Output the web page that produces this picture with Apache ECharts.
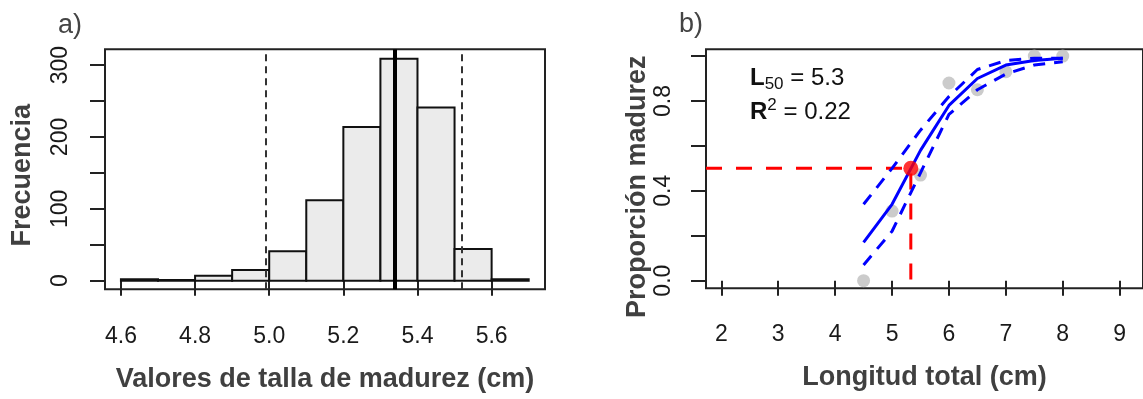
<!DOCTYPE html>
<html><head><meta charset="utf-8">
<script src="https://cdn.jsdelivr.net/npm/echarts@6/dist/echarts.min.js"></script>
<style>html,body{margin:0;padding:0;background:#fff}#c{width:1143px;height:399px}</style>
</head><body><div id="c"></div>
<script>
// ---- Panel a) histogram data ----
const binStarts = [4.6, 4.7, 4.8, 4.9, 5.0, 5.1, 5.2, 5.3, 5.4, 5.5, 5.6];
const binWidth = 0.1;
const counts = [2, 1, 7, 15, 41, 112, 214, 309, 241, 44, 2];
const ciLow = 4.987, l50Mean = 5.336, ciHigh = 5.523;
const histXTicks = [4.6, 4.8, 5.0, 5.2, 5.4, 5.6];
const histYTicks = [0, 50, 100, 150, 200, 250, 300];
const histYLabels = [0, 100, 200, 300];

// ---- Panel b) maturity ogive data ----
const lengths = [4.5, 5.0, 5.5, 6.0, 6.5, 7.0, 7.5, 8.0];
const propObs = [0.0, 0.31, 0.47, 0.88, 0.85, 0.93, 1.0, 1.0];
const propFit = [0.17, 0.34, 0.58, 0.78, 0.90, 0.96, 0.98, 0.99];
const propUpper = [0.34, 0.50, 0.67, 0.82, 0.94, 0.98, 0.99, 0.99];
const propLower = [0.07, 0.22, 0.48, 0.74, 0.85, 0.92, 0.96, 0.975];
const L50 = 5.33, pHalf = 0.5;
const lenXTicks = [2, 3, 4, 5, 6, 7, 8, 9];
const propYTicks = [0, 0.2, 0.4, 0.6, 0.8, 1.0];
const propYLabels = [0, 0.4, 0.8];

const FONT = "'Liberation Sans', Arial, Helvetica, sans-serif";
const AX = { histX: [4.557, 5.744], histY: [-12, 322], lenX: [1.731, 9.41], propY: [-0.034, 1.03] };

const tickStyle = (vals) => ({ show: true, inside: false, length: 15, customValues: vals, lineStyle: { color: '#222', width: 2 } });
const labelStyle = (vals, fmt, margin, rot) => ({ show: true, customValues: vals, formatter: fmt, margin: margin, rotate: rot || 0,
  fontSize: 23, color: '#1a1a1a', fontFamily: FONT });
const nameStyle = (pad) => ({ fontSize: 27, fontWeight: 'bold', color: '#404040', fontFamily: FONT, padding: pad || 0 });

const chart = echarts.init(document.getElementById('c'), null, { renderer: 'canvas' });
chart.setOption({
  animation: false,
  backgroundColor: '#fff',
  grid: [
    { left: 105, top: 49.3, width: 440, height: 240, show: true, borderColor: '#222', borderWidth: 2, backgroundColor: 'transparent' },
    { left: 706, top: 49.3, width: 448, height: 239, show: true, borderColor: '#222', borderWidth: 2, backgroundColor: 'transparent' }
  ],
  xAxis: [
    { type: 'value', gridIndex: 0, min: AX.histX[0], max: AX.histX[1], axisLine: { show: false }, splitLine: { show: false },
      axisTick: tickStyle(histXTicks), axisLabel: labelStyle(histXTicks, v => v.toFixed(1), 36),
      name: 'Valores de talla de madurez (cm)', nameLocation: 'middle', nameGap: 77, nameTextStyle: nameStyle() },
    { type: 'value', gridIndex: 1, min: AX.lenX[0], max: AX.lenX[1], axisLine: { show: false }, splitLine: { show: false },
      axisTick: tickStyle(lenXTicks), axisLabel: labelStyle(lenXTicks, v => String(v), 35),
      name: 'Longitud total (cm)', nameLocation: 'middle', nameGap: 76, nameTextStyle: nameStyle() }
  ],
  yAxis: [
    { type: 'value', gridIndex: 0, min: AX.histY[0], max: AX.histY[1], axisLine: { show: false }, splitLine: { show: false },
      axisTick: tickStyle(histYTicks), axisLabel: labelStyle(histYLabels, v => String(v), 33, 90),
      name: 'Frecuencia', nameLocation: 'middle', nameGap: 69, nameRotate: 90, nameTextStyle: nameStyle([0, 12, 0, 0]) },
    { type: 'value', gridIndex: 1, min: AX.propY[0], max: AX.propY[1], axisLine: { show: false }, splitLine: { show: false },
      axisTick: tickStyle(propYTicks), axisLabel: labelStyle(propYLabels, v => v.toFixed(1), 31, 90),
      name: 'Proporción madurez', nameLocation: 'middle', nameGap: 42, nameRotate: 90, nameTextStyle: nameStyle([0, 36, 0, 0]) }
  ],
  series: [
    { type: 'custom', xAxisIndex: 0, yAxisIndex: 0, silent: true,
      data: binStarts.map((s, i) => [s, s + binWidth, counts[i]]),
      encode: { x: [0, 1], y: 2 },
      renderItem: function (params, api) {
        const p0 = api.coord([api.value(0), api.value(2)]);
        const p1 = api.coord([api.value(1), 0]);
        return { type: 'rect', shape: { x: p0[0], y: p0[1], width: p1[0] - p0[0], height: p1[1] - p0[1] },
          style: { fill: '#ebebeb', stroke: '#111', lineWidth: 2 } };
      },
      markLine: { silent: true, symbol: ['none', 'none'], label: { show: false }, animation: false,
        data: [
          { xAxis: ciLow, lineStyle: { color: '#333', width: 2, type: [7, 5] } },
          { xAxis: l50Mean, lineStyle: { color: '#000', width: 4, type: 'solid' } },
          { xAxis: ciHigh, lineStyle: { color: '#333', width: 2, type: [7, 5] } }
        ] }
    },
    { type: 'scatter', xAxisIndex: 1, yAxisIndex: 1, silent: true, symbol: 'circle', symbolSize: 13,
      itemStyle: { color: '#bebebe' }, data: lengths.map((x, i) => [x, propObs[i]]), z: 2 },
    { type: 'line', xAxisIndex: 1, yAxisIndex: 1, silent: true, showSymbol: false, symbol: 'none',
      lineStyle: { color: '#ff0000', width: 3, type: [16, 14] },
      data: [[AX.lenX[0], pHalf], [L50, pHalf], [L50, AX.propY[0]]], z: 3 },
    { type: 'line', xAxisIndex: 1, yAxisIndex: 1, silent: true, showSymbol: false, symbol: 'none',
      lineStyle: { color: '#0000ff', width: 3, type: 'solid' }, data: lengths.map((x, i) => [x, propFit[i]]), z: 4 },
    { type: 'line', xAxisIndex: 1, yAxisIndex: 1, silent: true, showSymbol: false, symbol: 'none',
      lineStyle: { color: '#0000ff', width: 3, type: [12, 9] }, data: lengths.map((x, i) => [x, propUpper[i]]), z: 4 },
    { type: 'line', xAxisIndex: 1, yAxisIndex: 1, silent: true, showSymbol: false, symbol: 'none',
      lineStyle: { color: '#0000ff', width: 3, type: [12, 9] }, data: lengths.map((x, i) => [x, propLower[i]]), z: 4 },
    { type: 'scatter', xAxisIndex: 1, yAxisIndex: 1, silent: true, symbol: 'circle', symbolSize: 15,
      itemStyle: { color: '#ff0000' }, data: [[L50, pHalf]], z: 5 }
  ],
  graphic: [
    { type: 'text', left: 58, top: 12, style: { text: 'a)', fontSize: 27, fontFamily: FONT, fill: '#444' } },
    { type: 'text', left: 679, top: 11, style: { text: 'b)', fontSize: 27, fontFamily: FONT, fill: '#444' } },
    { type: 'text', x: 750, y: 63, style: { text: '{L|L}{s|50}{e| = 5.3}', fontFamily: FONT, fill: '#111',
      rich: { L: { fontSize: 24, fontWeight: 'bold', lineHeight: 30, fontFamily: FONT },
              s: { fontSize: 17, lineHeight: 16, verticalAlign: 'bottom', fontFamily: FONT },
              e: { fontSize: 24, lineHeight: 30, fontFamily: FONT } } } },
    { type: 'text', x: 750, y: 97, style: { text: '{R|R}{s|2}{e| = 0.22}', fontFamily: FONT, fill: '#111',
      rich: { R: { fontSize: 24, fontWeight: 'bold', lineHeight: 30, fontFamily: FONT },
              s: { fontSize: 17, lineHeight: 16, verticalAlign: 'top', fontFamily: FONT },
              e: { fontSize: 24, lineHeight: 30, fontFamily: FONT } } } }
  ]
});
</script>
</body></html>
